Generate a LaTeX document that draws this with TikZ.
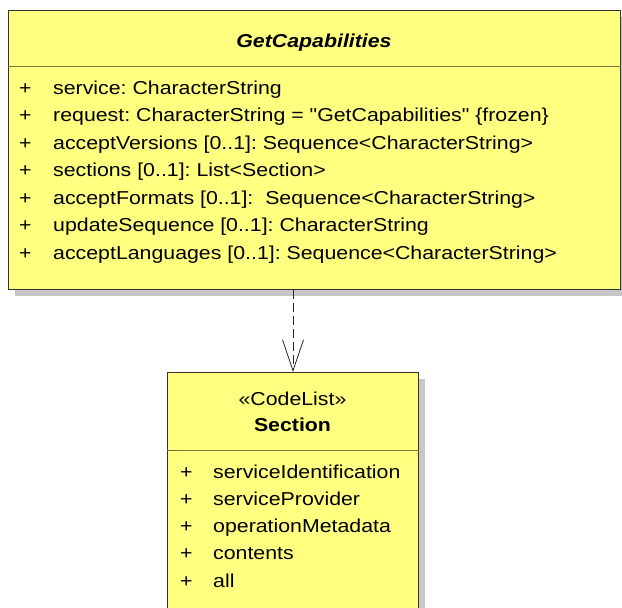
\documentclass[tikz,border=0pt]{standalone}
\usepackage{fontspec}
\setmainfont[FakeStretch=1.14,Ligatures=TeXOff]{Liberation Sans}
\usetikzlibrary{arrows.meta,shadows}
\definecolor{umlyellow}{RGB}{255,255,128}
\frenchspacing
\begin{document}
\begin{tikzpicture}[x=1pt,y=-1pt,line join=miter,font=\fontsize{18.7}{22}\selectfont,
	classbox/.style={draw=black!80,line width=1pt,fill=umlyellow,inner sep=0pt,anchor=north west,
		drop shadow={shadow xshift=6pt,shadow yshift=-6pt,fill=black!22,opacity=1}},
	divider/.style={draw=umlyellow!45!black,line width=.8pt},
	attr/.style={anchor=base west,inner sep=0pt},
	dep/.style={draw=black!85,line width=.8pt,dash pattern=on 9pt off 4pt,
		-{Straight Barb[length=31pt,width=21pt,line width=.8pt]}}]
			\useasboundingbox (0,0) rectangle (622,608);
			% class boxes
			\node[classbox,minimum width=612pt,minimum height=279pt] (GC) at (8,10) {};
			\node[classbox,minimum width=251pt,minimum height=260pt] (S) at (167,372) {};
			\draw[divider] ([yshift=-56pt]GC.north west) -- ([yshift=-56pt]GC.north east);
			\draw[divider] ([yshift=-78pt]S.north west) -- ([yshift=-78pt]S.north east);
			% GetCapabilities
			\node[anchor=base,inner sep=0pt,font=\bfseries\itshape\fontsize{18.7}{22}\selectfont] (GCname) at (314,47) {GetCapabilities};
			\foreach \txt [count=\i from 0] in {{service: CharacterString},
				{request: CharacterString = "GetCapabilities" \{frozen\}},
				{acceptVersions [0..1]: Sequence<CharacterString>},
				{sections [0..1]: List<Section>},
				{acceptFormats [0..1]:\ \ Sequence<CharacterString>},
				{updateSequence [0..1]: CharacterString},
				{acceptLanguages [0..1]: Sequence<CharacterString>}}{
				\node[attr] (GCplus\i) at (19,{94+27.5*\i}) {+};
				\node[attr] (GCattr\i) at (53,{94+27.5*\i}) {\txt};
			}
			% Section
			\node[anchor=base,inner sep=0pt] (Sstereo) at (292.5,405.5) {«CodeList»};
			\node[anchor=base,inner sep=0pt,font=\bfseries\fontsize{18.7}{22}\selectfont] (Sname) at (292.5,431.5) {Section};
			\foreach \txt [count=\i from 0] in {serviceIdentification,serviceProvider,operationMetadata,contents,all}{
				\node[attr] (Splus\i) at (180,{478+27.3*\i}) {+};
				\node[attr] (Sattr\i) at (213,{478+27.3*\i}) {\txt};
			}
			% dependency
			\draw[dep] (GC.south -| S.north) -- (S.north);
\end{tikzpicture}
\end{document}
